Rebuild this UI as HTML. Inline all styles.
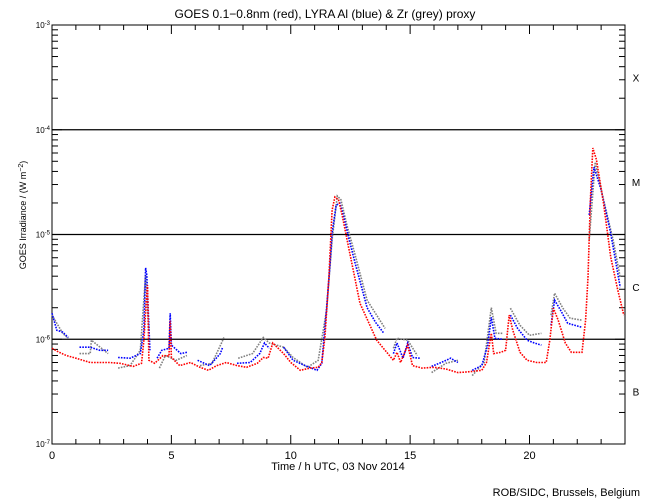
<!DOCTYPE html>
<html><head><meta charset="utf-8"><style>
body{margin:0;background:#fff;}
svg{display:block;font-family:"Liberation Sans",sans-serif;}
</style></head><body>
<svg id="chart" width="650" height="500" xmlns="http://www.w3.org/2000/svg">
<rect width="650" height="500" fill="#fff"/>
<text x="325" y="18" font-size="12" text-anchor="middle">GOES 0.1−0.8nm (red), LYRA Al (blue) &amp; Zr (grey) proxy</text>
<text x="338" y="470" font-size="11" text-anchor="middle">Time / h UTC, 03 Nov 2014</text>
<text transform="translate(26,215) rotate(-90)" font-size="9" text-anchor="middle">GOES Irradiance / (W m<tspan dy="-3" font-size="7">−2</tspan><tspan dy="3">)</tspan></text>
<text x="640" y="496" font-size="11" text-anchor="end">ROB/SIDC, Brussels, Belgium</text>
<g id="axes"></g>
<g id="series"></g>
</svg>
<script>
const xTicks=[0,5,10,15,20];
const yDecades=[-7,-6,-5,-4,-3];
const gridLevels=[-6,-5,-4];
const classLabels=["B","C","M","X"];
const classLevels=[-6.5,-5.5,-4.5,-3.5];
const redT=[0,0.3,0.6,1.0,1.6,2.4,2.85,3.4,3.75,3.85,3.95,4.0,4.03,4.06,4.3,4.65,4.9,4.95,5.0,5.35,5.8,6.2,6.55,6.9,7.3,7.75,8.15,8.6,8.85,9.05,9.25,9.7,10.0,10.4,10.8,11.15,11.3,11.43,11.6,11.73,11.85,12.0,12.15,12.4,12.9,13.6,14.3,14.45,14.6,14.9,15.1,15.5,16.0,16.5,17.0,17.5,18.0,18.2,18.4,18.5,18.8,19.0,19.15,19.3,19.6,19.9,20.3,20.7,20.85,21.0,21.2,21.5,21.75,22.2,22.35,22.45,22.55,22.65,22.8,23.1,23.4,23.7,23.95];
const redV=[8.2e-7,7.5e-7,7.0e-7,6.6e-7,6.0e-7,6.0e-7,5.9e-7,5.5e-7,5.9e-7,9.8e-7,2.36e-6,3.29e-6,1.52e-6,6.3e-7,5.9e-7,7.0e-7,6.9e-7,1.5e-6,6.7e-7,5.6e-7,6.0e-7,5.4e-7,5.05e-7,5.6e-7,6.0e-7,5.6e-7,5.4e-7,5.9e-7,6.7e-7,6.6e-7,9.2e-7,7.3e-7,6.0e-7,5.05e-7,5.3e-7,5.4e-7,6.0e-7,1.04e-6,3.9e-6,1.71e-5,2.28e-5,2.15e-5,1.54e-5,7.95e-6,2.2e-6,9.8e-7,6.3e-7,7.5e-7,6.0e-7,8.8e-7,5.6e-7,5.3e-7,5.4e-7,5.2e-7,4.8e-7,4.9e-7,5.05e-7,6.0e-7,1.14e-6,7.3e-7,7.5e-7,7.85e-7,1.7e-6,1.22e-6,7.5e-7,6.3e-7,6.0e-7,6.0e-7,9.8e-7,1.98e-6,1.52e-6,9.2e-7,7.5e-7,7.5e-7,1.52e-6,3.9e-6,2.15e-5,6.7e-5,5.2e-5,2.0e-5,6.1e-6,2.94e-6,1.7e-6];
const blueT=[0,0.2,0.45,0.68,null,1.15,1.6,2.0,2.35,null,2.77,3.27,3.7,3.85,3.92,3.97,4.05,4.1,null,4.4,4.6,4.9,4.95,5.0,5.4,5.65,null,6.1,6.6,7.05,7.15,null,7.75,8.3,8.7,8.9,9.1,null,9.7,10.1,10.6,11.1,11.3,11.5,11.65,11.73,11.9,12.05,12.2,12.45,12.7,13.2,13.55,13.9,null,14.3,14.45,14.7,14.9,15.1,15.4,null,15.9,16.3,16.7,17.0,null,17.6,18.0,18.25,18.4,18.55,18.9,null,19.2,19.5,19.9,20.2,20.5,null,20.9,21.05,21.3,21.6,22.2,null,22.5,22.7,23.0,23.4,23.8];
const blueV=[1.77e-6,1.22e-6,1.17e-6,1.04e-6,null,8.4e-7,8.4e-7,7.85e-7,7.85e-7,null,6.7e-7,6.6e-7,7.3e-7,1.22e-6,4.8e-6,4.1e-6,1.5e-6,7.85e-7,null,6.6e-7,7.85e-7,8.2e-7,1.77e-6,8.8e-7,7.3e-7,7.5e-7,null,6.3e-7,5.6e-7,7.3e-7,8.4e-7,null,5.9e-7,6.0e-7,7.3e-7,9.2e-7,8.2e-7,null,8.4e-7,6.3e-7,5.6e-7,5.05e-7,5.9e-7,2.0e-6,5.3e-6,1.03e-5,1.9e-5,2.0e-5,1.54e-5,8.9e-6,5.3e-6,2.0e-6,1.45e-6,1.14e-6,null,7.3e-7,9.2e-7,6.6e-7,9.2e-7,6.7e-7,6.6e-7,null,5.5e-7,6.0e-7,6.6e-7,6.0e-7,null,5.05e-7,5.6e-7,8.8e-7,1.62e-6,1.02e-6,1.0e-6,null,1.7e-6,1.27e-6,9.8e-7,9.2e-7,8.8e-7,null,1.36e-6,2.36e-6,1.9e-6,1.42e-6,1.3e-6,null,1.54e-5,4.4e-5,2.67e-5,1.03e-5,3.14e-6];
const greyT=[0,0.45,0.68,null,1.15,1.6,1.65,2.35,null,2.77,3.27,3.7,3.92,4.05,null,4.5,4.75,5.2,5.65,null,6.2,6.7,7.1,7.2,null,7.8,8.4,8.85,9.1,9.7,10.1,10.7,11.15,11.5,11.73,11.95,12.1,12.35,12.7,13.2,13.95,null,14.3,14.45,14.9,15.3,null,15.9,16.5,17.0,null,17.6,18.1,18.4,18.6,18.9,null,19.2,19.6,20.0,20.5,null,20.9,21.05,21.4,21.7,22.2,null,22.5,22.75,23.1,23.5,23.8];
const greyV=[1.7e-6,1.14e-6,1.02e-6,null,7.3e-7,7.3e-7,9.8e-7,7.3e-7,null,5.3e-7,5.6e-7,7.85e-7,4.1e-6,1.22e-6,null,5.3e-7,7.0e-7,6.3e-7,7.0e-7,null,5.6e-7,5.9e-7,9.2e-7,1.04e-6,null,6.6e-7,7.3e-7,1.04e-6,9.2e-7,8.4e-7,6.7e-7,5.4e-7,6.3e-7,1.9e-6,8.9e-6,2.33e-5,2.15e-5,1.23e-5,6.35e-6,2.36e-6,1.27e-6,null,8.2e-7,1.02e-6,9.8e-7,7.0e-7,null,4.8e-7,5.9e-7,6.3e-7,null,4.5e-7,6.0e-7,2.0e-6,1.14e-6,1.14e-6,null,1.98e-6,1.36e-6,1.09e-6,1.14e-6,null,1.7e-6,2.75e-6,1.98e-6,1.59e-6,1.52e-6,null,8.9e-6,4.9e-5,2.15e-5,8.9e-6,3.9e-6];

const NS="http://www.w3.org/2000/svg";
const L=52,R=625,T=25,B=444;
function xs(h){return L+(R-L)*h/24;}
function ys(v){return B-(B-T)*(Math.log10(v)+7)/4;}
function yl(e){return B-(B-T)*(e+7)/4;}
function mk(tag,attrs,parent){const el=document.createElementNS(NS,tag);for(const k in attrs)el.setAttribute(k,attrs[k]);parent.appendChild(el);return el;}
const ax=document.getElementById('axes');
const frame=mk('rect',{x:L,y:T,width:R-L,height:B-T,fill:'none',stroke:'#000','stroke-width':1},ax);


gridLevels.forEach(e=>{const ln=mk('line',{x1:L,x2:R,y1:yl(e),y2:yl(e),stroke:'#000','stroke-width':1.3},ax);

});
for(let h=0;h<=24;h++){const major=h%5===0;const len=major?9:5;const x=xs(h);
mk('line',{x1:x,x2:x,y1:B,y2:B-len,stroke:'#000'},ax);mk('line',{x1:x,x2:x,y1:T,y2:T+len,stroke:'#000'},ax);}
xTicks.forEach(h=>{const t=mk('text',{x:xs(h),y:B+15,'font-size':11,'text-anchor':'middle'},ax);t.textContent=h;

});
yDecades.forEach((e,i)=>{if(i<yDecades.length-1){for(let m=2;m<=9;m++){const y=ys(m*Math.pow(10,e));
mk('line',{x1:L,x2:L+6,y1:y,y2:y,stroke:'#000'},ax);mk('line',{x1:R,x2:R-6,y1:y,y2:y,stroke:'#000'},ax);}}
const y=yl(e);mk('line',{x1:L,x2:L+10,y1:y,y2:y,stroke:'#000'},ax);mk('line',{x1:R,x2:R-10,y1:y,y2:y,stroke:'#000'},ax);
const t=mk('text',{x:L-2,y:y+3,'font-size':8,'text-anchor':'end'},ax);


t.innerHTML='10<tspan dy="-3" font-size="6">'+e+'</tspan>';});
classLabels.forEach((c,i)=>{const t=mk('text',{x:636,y:yl(classLevels[i])+4,'font-size':10,'text-anchor':'middle'},ax);t.textContent=c;

});
const sg=document.getElementById('series');
function draw(ts,vs,color,name){let segs=[],cur=[];
ts.forEach((t,i)=>{if(t===null||vs[i]===null){if(cur.length)segs.push(cur);cur=[];}else cur.push(xs(t).toFixed(1)+','+ys(vs[i]).toFixed(1));});
if(cur.length)segs.push(cur);
segs.forEach(s=>{const p=mk('polyline',{points:s.join(' '),fill:'none',stroke:color,'stroke-width':1.6,'stroke-dasharray':'1.6 1.2'},sg);

});}
draw(greyT,greyV,'#808080','lyra-zr-series');
draw(blueT,blueV,'#0000ff','lyra-al-series');
draw(redT,redV,'#ff0000','goes-series');
</script>
</body></html>
